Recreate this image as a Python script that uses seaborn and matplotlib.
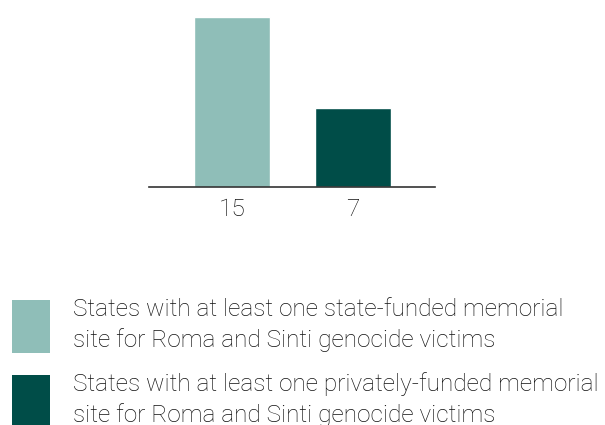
import pandas as pd
import matplotlib.pyplot as plt
import seaborn as sns
from matplotlib.patches import Patch

# data
categories = [
    "States with at least one state-funded memorial\nsite for Roma and Sinti genocide victims",
    "States with at least one privately-funded memorial\nsite for Roma and Sinti genocide victims",
]
counts = [15, 7]
tick_labels = ["15", "7"]
colors = ["#8FBEB8", "#004D48"]

df = pd.DataFrame({"category": categories, "count": counts})

sns.set_style("white")
plt.rcParams["font.family"] = ["Roboto", "DejaVu Sans"]

fig = plt.figure(figsize=(6.05, 4.25), dpi=100)
ax = fig.add_axes([149 / 605, 1 - 187 / 425, 286 / 605, 170 / 425])

sns.barplot(data=df, x="category", y="count", hue="category",
            palette=colors, width=0.628, saturation=1, legend=False, ax=ax)

ax.set_xlim(-0.686, 1.678)
ax.set_ylim(0, 15)
ax.set_xticks(range(len(tick_labels)))
ax.set_xticklabels(tick_labels, fontsize=17.6, fontweight="light", color="#111111")
ax.set_yticks([])
ax.set_xlabel("")
ax.set_ylabel("")
for side in ["top", "right", "left"]:
    ax.spines[side].set_visible(False)
ax.spines["bottom"].set_color("#333333")
ax.spines["bottom"].set_linewidth(1.2)
ax.tick_params(axis="x", length=0, pad=8)

handles = [Patch(facecolor=c, edgecolor="none") for c in colors]
leg = fig.legend(handles, categories, loc="upper left",
                 bbox_to_anchor=(12 / 605, 1 - 298 / 425), frameon=False,
                 prop={"family": "Roboto", "weight": "light", "size": 17.6},
                 handlelength=1.56, handleheight=2.95, handletextpad=0.95,
                 labelspacing=0.79, borderaxespad=0, borderpad=0)
for t in leg.get_texts():
    t.set_linespacing(1.37)
    t.set_color("#111111")

fig.savefig("out.png", dpi=100, facecolor="white")
